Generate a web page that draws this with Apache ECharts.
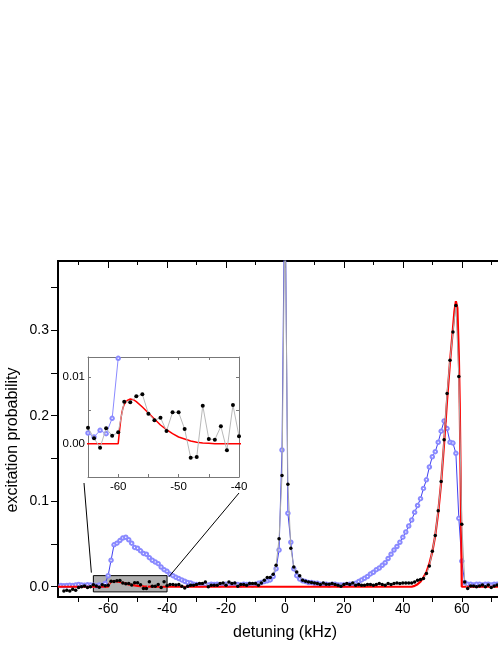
<!DOCTYPE html>
<html>
<head>
<meta charset="utf-8">
<script src="https://cdn.jsdelivr.net/npm/echarts@6/dist/echarts.min.js"></script>
<style>
html,body{margin:0;padding:0;background:#fff;overflow:hidden;}
#c{width:520px;height:645px;}
</style>
</head>
<body>
<div id="c"></div>
<script>
// ---- data ----
// measured signal (black dots), detuning -75 ... 72 kHz, 1 kHz steps
const blackStart = -75;
const blackExcitation = [
 -0.005,-0.004,-0.005,-0.003,-0.004,-0.001,0.000,0.001,-0.001,0.000,
 0.0024,0.0008,-0.0006,0.0023,0.0012,0.0017,0.0063,0.0062,0.0071,0.0074,
 0.0045,0.0035,0.0039,0.0019,0.0047,0.0047,0.0022,-0.0021,-0.0020,0.0057,
 0.0007,0.0006,0.0026,-0.0010,0.0058,0.0011,0.0026,0.0026,0.0020,0.0026,
 0.0006,-0.0014,0.0006,0.0018,0.0018,0.0026,0.0037,0.0037,0.0056,0.0000,
 0.0018,0.0018,0.0018,0.0037,0.0045,0.0018,0.0056,0.0037,0.0045,0.0006,
 0.0026,0.0026,0.0018,0.0037,0.0037,0.0037,0.0018,0.0045,0.0076,0.0107,
 0.0107,0.0146,0.025,0.056,0.13,0.45,0.12,0.045,0.023,0.0173,
 0.0128,0.0076,0.0064,0.0056,0.0049,0.0045,0.0037,0.0026,0.0045,0.003,
 0.003,0.0037,0.0026,0.0018,0.0006,0.0026,0.0037,0.0026,0.0045,0.0018,
 0.0026,0.0018,0.0018,0.0026,0.0026,0.0018,0.0026,0.0037,0.0026,0.0018,
 0.0037,0.0026,0.0037,0.0045,0.0037,0.0045,0.0045,0.0045,0.0045,0.0056,
 0.0076,0.0084,0.0095,0.0154,0.0243,0.0415,0.060,0.089,0.123,0.172,
 0.226,0.265,0.298,0.329,0.246,0.073,0.0056,-0.002,0.001,0.001,
 0.000,0.001,0.002,0.000,0.002,-0.001,0.001,0.002
];
// reference signal (blue open circles), detuning -76 ... 72 kHz, 1 kHz steps
const blueStart = -76;
const blueExcitation = [
 0.0015,0.0012,0.0015,0.0018,0.0015,0.0020,0.0026,0.0020,0.0018,0.0022,
 0.0020,0.0016,0.0010,0.0020,0.0015,0.0038,0.0128,0.031,0.049,0.051,
 0.054,0.057,0.058,0.055,0.051,0.046,0.045,0.042,0.039,0.038,
 0.034,0.031,0.029,0.027,0.023,0.020,0.018,0.0145,0.013,0.011,
 0.0095,0.008,0.0065,0.005,0.0045,0.003,0.0025,0.002,0.002,0.0025,
 0.002,0.003,0.0025,0.003,0.002,0.0025,0.003,0.002,0.0025,0.003,
 0.0025,0.002,0.003,0.0025,0.003,0.002,0.003,0.004,0.005,0.006,
 0.007,0.008,0.012,0.021,0.043,0.16,0.5,0.086,0.052,0.021,
 0.013,0.009,0.007,0.006,0.005,0.005,0.004,0.004,0.003,0.003,
 0.003,0.002,0.003,0.003,0.002,0.002,0.002,0.002,0.003,0.003,
 0.004,0.006,0.008,0.010,0.012,0.015,0.017,0.020,0.022,0.025,
 0.028,0.033,0.038,0.043,0.047,0.052,0.058,0.064,0.071,0.078,
 0.087,0.095,0.103,0.115,0.125,0.140,0.152,0.158,0.169,0.182,
 0.194,0.185,0.169,0.168,0.156,0.080,0.030,0.005,0.003,0.003,
 0.002,0.003,0.003,0.002,0.003,0.003,0.002,0.003,0.003
];
// fit curve (red)
const fitDetuning = [-77,-60,-59.8,-59.6,-59.4,-59.2,-59,-58.5,-58,-57.5,-57,-56,-55,-54,-53,-52,-51,-50,-49,-48,-47,-46,-45,-44,
  43,44,45,46,47,48,49,50,51,52,53,54,55,56,57,57.5,58,58.5,59,59.3,59.6,59.85,60,75];
const fitExcitation = [0,0,0.0018,0.0034,0.0046,0.0054,0.0059,0.0065,0.0067,0.0066,0.0063,0.0055,0.0046,0.0037,0.0028,0.0021,0.0015,0.001,0.0007,0.0004,0.0002,0.0001,0.00005,0,
  0,0.001,0.003,0.006,0.011,0.017,0.027,0.041,0.06,0.087,0.122,0.168,0.218,0.263,0.302,0.322,0.334,0.326,0.27,0.215,0.13,0.05,0,0];

// axis ticks / labels
const mainXTicks = [-70,-60,-50,-40,-30,-20,-10,0,10,20,30,40,50,60,70];
const mainXLabels = [-60,-40,-20,0,20,40,60];
const mainXTopMinor = [-70,-50,-30,-10,10,30,50,70];
const mainYTicks = [0,0.05,0.1,0.15,0.2,0.25,0.3,0.35];
const mainYLabels = [0,0.1,0.2,0.3];
const insetXTicks = [-65,-60,-55,-50,-45,-40];
const insetXLabels = [-60,-50,-40];
const insetYTicks = [-0.005,0,0.005,0.01];
const insetYLabels = [0,0.01];
// zoom box region
const boxRange = {x:[-65,-40], y:[-0.006,0.013]};

// ---- build pairs ----
const blackData = blackExcitation.map((v,i)=>[blackStart+i, v]);
const blueData = blueExcitation.map((v,i)=>[blueStart+i, v]);
const fitData = fitDetuning.map((x,i)=>[x, fitExcitation[i]]);

const FONT = 'Liberation Sans, Arial, sans-serif';
const chart = echarts.init(document.getElementById('c'), null, {renderer:'canvas'});

function ax(gi, pos, ticks, len, inside, labels, lineColor, lineW, extra){
  return Object.assign({
    type:'value', gridIndex:gi, position:pos,
    axisLine:{show:true, onZero:false, lineStyle:{color:lineColor, width:lineW}},
    axisTick:{show:true, inside:inside, length:len, customValues:ticks, lineStyle:{color:lineColor, width:1}},
    axisLabel:{show:!!labels, customValues:labels||[], color:'#000', fontFamily:FONT},
    splitLine:{show:false}
  }, extra);
}

const option = {
  animation:false,
  backgroundColor:'#fff',
  grid:[
    {left:58, top:261, width:448, height:336},
    {left:88, top:357, width:151, height:120, show:true, backgroundColor:'#fff', borderWidth:0}
  ],
  xAxis:[
    ax(0,'bottom',mainXTicks,5,false,mainXLabels,'#000',2,{min:-77,max:75}),
    ax(0,'top',mainXLabels,7,true,null,'#000',2,{min:-77,max:75}),
    ax(0,'top',mainXTopMinor,4,true,null,'#000',2,{min:-77,max:75,offset:0}),
    ax(1,'bottom',insetXTicks,3,true,insetXLabels,'#777',1,{min:-65,max:-40}),
    ax(1,'top',insetXTicks,3,true,null,'#777',1,{min:-65,max:-40})
  ],
  yAxis:[
    ax(0,'left',mainYTicks,7,false,mainYLabels,'#000',2,{min:-0.012,max:0.381}),
    ax(1,'left',insetYTicks,3,true,insetYLabels,'#777',1,{min:-0.005,max:0.013}),
    ax(1,'right',insetYTicks,3,true,null,'#777',1,{min:-0.005,max:0.013})
  ],
  series:[
    {type:'line', xAxisIndex:0, yAxisIndex:0, data:blueData, z:2,
     symbol:'emptyCircle', symbolSize:3.5, showAllSymbol:true,
     itemStyle:{color:'#8a8aff', borderWidth:0.8}, lineStyle:{color:'#4040f0', width:1}},
    {type:'line', xAxisIndex:0, yAxisIndex:0, data:fitData, z:3, symbol:'none',
     lineStyle:{color:'#ff0000', width:2.2},
     markArea:{silent:true, itemStyle:{color:'#b0b0b0', borderColor:'#000', borderWidth:1},
       data:[[{xAxis:boxRange.x[0], yAxis:boxRange.y[1]},{xAxis:boxRange.x[1], yAxis:boxRange.y[0]}]]}},
    {type:'line', xAxisIndex:0, yAxisIndex:0, data:blackData, z:4,
     symbol:'circle', symbolSize:3.5, showAllSymbol:true,
     itemStyle:{color:'#000'}, lineStyle:{color:'#a8a8a8', width:1}},
    {type:'line', xAxisIndex:3, yAxisIndex:1, data:blueData, z:5,
     symbol:'emptyCircle', symbolSize:3.5, showAllSymbol:true,
     itemStyle:{color:'#8a8aff', borderWidth:0.8}, lineStyle:{color:'#8a8aff', width:1}},
    {type:'line', xAxisIndex:3, yAxisIndex:1, data:fitData, z:6, symbol:'none',
     lineStyle:{color:'#ff0000', width:1.5}},
    {type:'line', xAxisIndex:3, yAxisIndex:1, data:blackData, z:7,
     symbol:'circle', symbolSize:4, showAllSymbol:true,
     itemStyle:{color:'#000'}, lineStyle:{color:'#b8b8b8', width:1}}
  ]
};
// label font sizes / formatting
option.xAxis[0].axisLabel.fontSize = 14; option.xAxis[0].axisLabel.margin = 5;
option.yAxis[0].axisLabel.fontSize = 14; option.yAxis[0].axisLabel.margin = 9;
option.yAxis[0].axisLabel.formatter = v => v.toFixed(1);
option.xAxis[3].axisLabel.fontSize = 11.5; option.xAxis[3].axisLabel.margin = 4;
option.yAxis[1].axisLabel.fontSize = 11.5; option.yAxis[1].axisLabel.margin = 3;
option.yAxis[1].axisLabel.formatter = v => v.toFixed(2);

chart.setOption(option);

// annotation: connectors from the zoom box to the inset, and axis titles
const boxTL = chart.convertToPixel({xAxisIndex:0, yAxisIndex:0}, [boxRange.x[0], boxRange.y[1]]);
const boxTR = chart.convertToPixel({xAxisIndex:0, yAxisIndex:0}, [boxRange.x[1], boxRange.y[1]]);
const insBL = chart.convertToPixel({xAxisIndex:3, yAxisIndex:1}, [-65, -0.005]);
const insBR = chart.convertToPixel({xAxisIndex:3, yAxisIndex:1}, [-40, -0.005]);
chart.setOption({
  graphic:[
    {type:'line', z:100, shape:{x1:insBL[0]-4, y1:insBL[1]+6, x2:boxTL[0]-2, y2:boxTL[1]-3}, style:{stroke:'#000', lineWidth:1}},
    {type:'line', z:100, shape:{x1:insBR[0], y1:insBR[1]+16, x2:boxTR[0]+2, y2:boxTR[1]+1}, style:{stroke:'#000', lineWidth:1}},
    {type:'text', z:100, x:285, y:633, style:{text:'detuning (kHz)', font:'16px '+FONT, fill:'#000', textAlign:'center', textVerticalAlign:'middle'}},
    {type:'text', z:100, x:13, y:440, rotation:Math.PI/2, style:{text:'excitation probability', font:'16px '+FONT, fill:'#000', textAlign:'center', textVerticalAlign:'middle'}}
  ]
});
</script>
</body>
</html>
